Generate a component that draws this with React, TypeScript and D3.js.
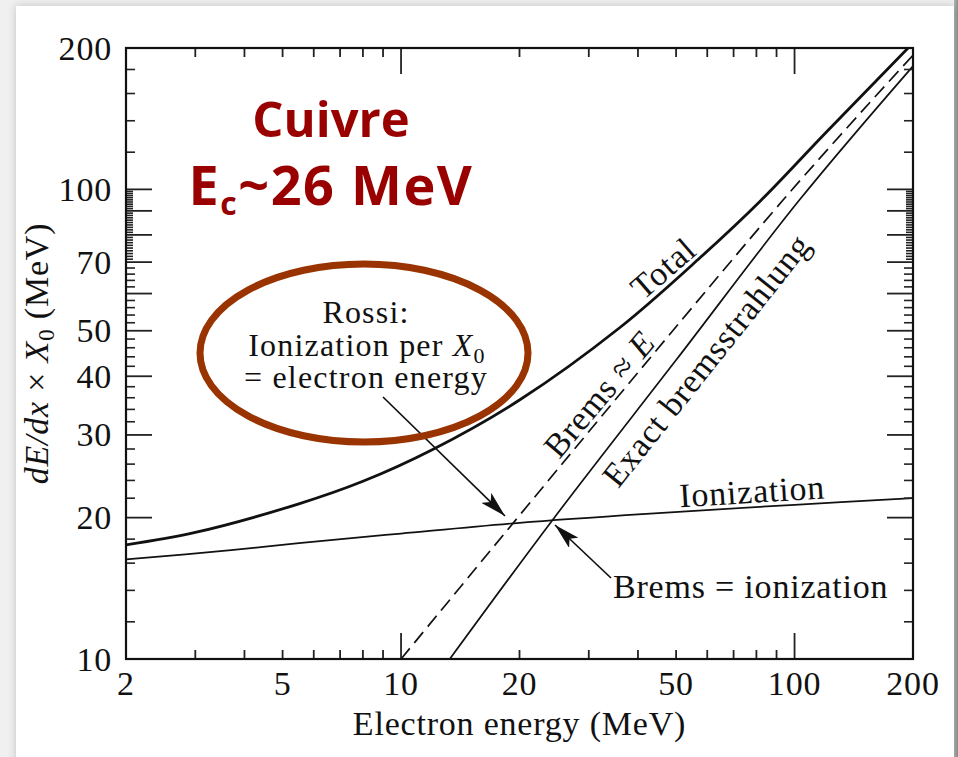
import React from 'react';
import * as d3 from 'd3';

const W = 958;
const H = 757;
const PL = 126, PR = 913, PT = 48, PB = 659;

// Series (energy in MeV, dE/dx × X0 in MeV)
const ionE = [2, 3.7, 5.5, 10, 20, 43, 100, 200];
const ionV = [16.3, 17.05, 17.65, 18.5, 19.5, 20.4, 21.3, 22.0];
const totE = [2, 3, 5.5, 8, 12, 20, 36, 57.5, 82, 120, 200];
const totV = [17.5, 18.6, 21.4, 23.9, 27.9, 35.6, 50.8, 71.5, 94.6, 132, 205];
const bremE = [13.3, 24.3, 50, 103, 200];
const bremV = [10, 19.8, 43.3, 95, 183];
const approxE = [10, 93.5, 200];
const approxV = [10, 94.9, 193];

// Axis ticks
const xTickLabels = [2, 5, 10, 20, 50, 100, 200];
const xLongTicks = [10, 100];
const xShortTicks = [3, 4, 5, 6, 7, 8, 9, 20, 30, 40, 50, 60, 70, 80, 90];
const yTickLabels = [10, 20, 30, 40, 50, 70, 100, 200];
const yLongTicks = [20, 30, 40, 50, 60, 70, 80, 90, 100];
const yShortTicks = [
  ...d3.range(12, 70, 2).filter((v) => v % 10 !== 0),
  ...d3.range(71, 100, 1).filter((v) => v % 10 !== 0),
  120, 140, 160, 180,
];

const SERIF = "'Liberation Serif', 'Times New Roman', serif";
const HAND = "'Comic Sans MS', 'Open Sans', 'Noto Sans', sans-serif";
const RED = '#990000';
const BROWN = '#993300';

export default function App() {
  const x = d3.scaleLog().domain([2, 200]).range([PL, PR]);
  const y = d3.scaleLog().domain([10, 200]).range([PB, PT]);
  const line = d3
    .line<[number, number]>()
    .x((d) => x(d[0]))
    .y((d) => y(d[1]))
    .curve(d3.curveCatmullRom.alpha(0.5));
  const zip = (a: number[], b: number[]) => a.map((v, i) => [v, b[i]] as [number, number]);

  const txt = { fontFamily: SERIF, fontSize: 34, letterSpacing: 0.8, fill: '#111' } as const;
  const txtS = { ...txt, fontSize: 32, letterSpacing: 1.2 } as const;

  return (
    <svg
      width={W}
      height={H}
      style={{ position: 'absolute', left: 0, top: 0, display: 'block' }}
    >
      <defs>
        <clipPath id="plotclip">
          <rect x={PL} y={PT} width={PR - PL} height={PB - PT} />
        </clipPath>
        <filter id="shadow" x="-5%" y="-5%" width="110%" height="110%">
          <feDropShadow dx="0" dy="0" stdDeviation="4" floodColor="#000" floodOpacity="0.2" />
        </filter>
        <marker
          id="arrow"
          viewBox="0 0 26 14"
          refX="26"
          refY="7"
          markerWidth="26"
          markerHeight="14"
          markerUnits="userSpaceOnUse"
          orient="auto"
        >
          <path d="M0,0 L26,7 L0,14 L6,7 Z" fill="#111" />
        </marker>
        <linearGradient id="rightedge" x1="0" x2="1" y1="0" y2="0">
          <stop offset="0" stopColor="#b5b5b5" />
          <stop offset="1" stopColor="#8f8f8f" />
        </linearGradient>
      </defs>

      {/* page frame */}
      <rect x={0} y={0} width={W} height={H} fill="#f0f0f0" />
      <rect x={954} y={0} width={4} height={H} fill="url(#rightedge)" />
      <rect x={16} y={6} width={938} height={H} fill="#fff" filter="url(#shadow)" />

      {/* curves */}
      <g clipPath="url(#plotclip)" fill="none" stroke="#111">
        <path d={line(zip(ionE, ionV)) || ''} strokeWidth={1.7} />
        <path d={line(zip(totE, totV)) || ''} strokeWidth={2.8} />
        <path d={line(zip(bremE, bremV)) || ''} strokeWidth={1.7} />
        <path d={line(zip(approxE, approxV)) || ''} strokeWidth={1.7} strokeDasharray="14,7" />
      </g>

      {/* ticks */}
      <g stroke="#222" strokeWidth={1.8}>
        {xLongTicks.map((v) => (
          <g key={'xl' + v}>
            <line x1={x(v)} x2={x(v)} y1={PB} y2={PB - 26} />
            <line x1={x(v)} x2={x(v)} y1={PT} y2={PT + 26} />
          </g>
        ))}
        {xShortTicks.map((v) => (
          <g key={'xs' + v}>
            <line x1={x(v)} x2={x(v)} y1={PB} y2={PB - 9} />
            <line x1={x(v)} x2={x(v)} y1={PT} y2={PT + 9} />
          </g>
        ))}
        {yLongTicks.map((v) => (
          <g key={'yl' + v}>
            <line x1={PL} x2={PL + 26} y1={y(v)} y2={y(v)} />
            <line x1={PR} x2={PR - 26} y1={y(v)} y2={y(v)} />
          </g>
        ))}
        {yShortTicks.map((v) => (
          <g key={'ys' + v}>
            <line x1={PL} x2={PL + (v > 70 && v < 100 ? 7 : 9)} y1={y(v)} y2={y(v)} strokeWidth={1.6} />
            <line x1={PR} x2={PR - (v > 70 && v < 100 ? 7 : 9)} y1={y(v)} y2={y(v)} strokeWidth={1.6} />
          </g>
        ))}
      </g>
      <rect x={PL} y={PT} width={PR - PL} height={PB - PT} fill="none" stroke="#111" strokeWidth={2.2} />

      {/* tick labels */}
      {xTickLabels.map((v) => (
        <text key={'xt' + v} x={x(v)} y={695} textAnchor="middle" {...txt}>
          {v}
        </text>
      ))}
      {yTickLabels.map((v) => (
        <text key={'yt' + v} x={112} y={y(v)} dy="0.34em" textAnchor="end" {...txt}>
          {v}
        </text>
      ))}

      {/* axis titles */}
      <text x={(PL + PR) / 2} y={735} textAnchor="middle" {...txt}>
        Electron energy (MeV)
      </text>
      <text transform={`translate(48,${(PT + PB) / 2}) rotate(-90)`} textAnchor="middle" {...txt}>
        <tspan fontStyle="italic">dE/dx</tspan>
        <tspan> × </tspan>
        <tspan fontStyle="italic">X</tspan>
        <tspan fontSize={23} dy={6}>0</tspan>
        <tspan dy={-6}> (MeV)</tspan>
      </text>

      {/* curve labels */}
      <text transform="translate(663,268) rotate(-41)" textAnchor="middle" dy="0.35em" {...txt}>
        Total
      </text>
      <text transform="translate(599,394) rotate(-50)" textAnchor="middle" dy="0.35em" {...txt}>
        Brems ≈ <tspan fontStyle="italic">E</tspan>
      </text>
      <text transform="translate(706,360) rotate(-51.5)" textAnchor="middle" dy="0.35em" {...txt}>
        Exact bremsstrahlung
      </text>
      <text transform="translate(752,491) rotate(-3.5)" textAnchor="middle" dy="0.35em" {...txt}>
        Ionization
      </text>
      <text x={613} y={598} {...txt}>
        Brems = ionization
      </text>

      {/* arrows */}
      <line x1={383} y1={397} x2={505} y2={516} stroke="#111" strokeWidth={1.7} markerEnd="url(#arrow)" />
      <line x1={611} y1={578} x2={555} y2={525} stroke="#111" strokeWidth={1.7} markerEnd="url(#arrow)" />

      {/* Rossi ellipse */}
      <ellipse cx={364} cy={353} rx={164} ry={89} fill="none" stroke={BROWN} strokeWidth={7} />
      <text x={366} y={323} textAnchor="middle" {...txtS}>
        Rossi:
      </text>
      <text x={367} y={356} textAnchor="middle" {...txtS}>
        Ionization per <tspan fontStyle="italic">X</tspan>
        <tspan fontSize={22} dy={7}>0</tspan>
      </text>
      <text x={366} y={388} textAnchor="middle" {...txtS}>
        = electron energy
      </text>

      {/* Cuivre annotation */}
      <text x={331} y={137} textAnchor="middle" fontFamily={HAND} fontWeight="bold" fontSize={49} fill={RED}>
        Cuivre
      </text>
      <text x={331} y={205} textAnchor="middle" fontFamily={HAND} fontWeight="bold" fontSize={54} fill={RED} letterSpacing={1.5}>
        E<tspan fontSize={32} dy={10}>c</tspan>
        <tspan dy={-10}>~26 MeV</tspan>
      </text>
    </svg>
  );
}
